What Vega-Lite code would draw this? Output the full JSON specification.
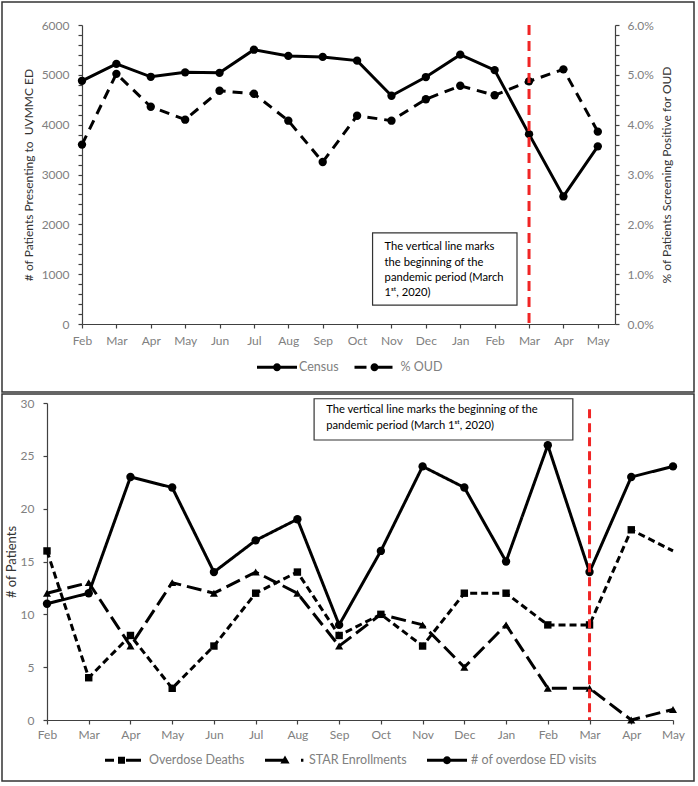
{
  "$schema": "https://vega.github.io/schema/vega-lite/v6.json",
  "padding": {"left": 1, "top": 1, "right": 0, "bottom": 0},
  "spacing": 0,
  "resolve": {"scale": {"shape": "independent"}, "legend": {"shape": "independent"}},
  "config": {
    "font": "Lato",
    "view": {"stroke": "#333333", "strokeWidth": 1.5},
    "axis": {
      "grid": false,
      "domainColor": "#404040",
      "tickColor": "#404040",
      "domainWidth": 1.2,
      "tickWidth": 1.2,
      "tickSize": 4,
      "labelColor": "#808080",
      "labelFont": "Lato",
      "labelFontSize": 12,
      "titleColor": "#333333",
      "titleFont": "Lato",
      "titleFontSize": 13,
      "titleFontWeight": "normal",
      "labelOverlap": false,
      "labelFlush": false
    },
    "legend": {"labelFont": "Lato", "labelFontSize": 12.5, "labelColor": "#808080"}
  },
  "vconcat": [
    {
      "width": 692,
      "height": 390,
      "data": {"values": [
        {"t": 0, "census": 4880, "oud": 0.0360},
        {"t": 1, "census": 5220, "oud": 0.0502},
        {"t": 2, "census": 4960, "oud": 0.0436},
        {"t": 3, "census": 5050, "oud": 0.0410},
        {"t": 4, "census": 5040, "oud": 0.0468},
        {"t": 5, "census": 5505, "oud": 0.0462},
        {"t": 6, "census": 5380, "oud": 0.0408},
        {"t": 7, "census": 5360, "oud": 0.0325},
        {"t": 8, "census": 5285, "oud": 0.0418},
        {"t": 9, "census": 4580, "oud": 0.0408},
        {"t": 10, "census": 4955, "oud": 0.0451},
        {"t": 11, "census": 5405, "oud": 0.0478},
        {"t": 12, "census": 5095, "oud": 0.0459},
        {"t": 13, "census": 3810, "oud": 0.0487},
        {"t": 14, "census": 2560, "oud": 0.0511},
        {"t": 15, "census": 3565, "oud": 0.0386}
      ]},
      "encoding": {
        "x": {
          "field": "t", "type": "quantitative",
          "scale": {"domain": [0, 15.5], "range": [80, 613], "nice": false, "zero": false},
          "axis": {
            "title": null,
            "offset": -68,
            "values": [0,1,2,3,4,5,6,7,8,9,10,11,12,13,14,15],
            "labelExpr": "['Feb','Mar','Apr','May','Jun','Jul','Aug','Sep','Oct','Nov','Dec','Jan','Feb','Mar','Apr','May'][datum.value]",
            "labelPadding": 7,
            "encode": {"ticks": {"y": {"value": -4}, "y2": {"value": 4}}}
          }
        }
      },
      "layer": [
        {
          "encoding": {
            "y": {
              "field": "census", "type": "quantitative",
              "scale": {"domain": [0, 6000], "range": [322, 23], "nice": false},
              "axis": {
                "orient": "left",
                "offset": -80,
                "title": "# of Patients Presenting to \u00a0UVMMC ED",
                "titleFontSize": 12,
                "titlePadding": 6,
                "format": "d",
                "values": [0,200,400,600,800,1000,1200,1400,1600,1800,2000,2200,2400,2600,2800,3000,3200,3400,3600,3800,4000,4200,4400,4600,4800,5000,5200,5400,5600,5800,6000],
                "labelExpr": "datum.value % 1000 === 0 ? datum.label : ''",
                "labelPadding": 9,
                "encode": {"ticks": {
                  "x": {"value": {"expr": "datum.value % 1000 === 0 ? -4 : 0"}},
                  "x2": {"value": {"expr": "datum.value % 1000 === 0 ? 4 : 3"}}
                }}
              }
            }
          },
          "layer": [
            {
              "transform": [{"filter": "datum.t === 0"}],
              "mark": {"type": "rect", "fill": "white", "stroke": "#333333", "strokeWidth": 1.2},
              "encoding": {"x": {"datum": 8.45}, "x2": {"datum": 12.65}, "y": {"datum": 1830}, "y2": {"datum": 380}}
            },
            {
              "transform": [{"filter": "datum.t === 0"}],
              "mark": {"type": "text", "text": ["The vertical line marks", "the beginning of the", "pandemic period (March", "1ˢᵗ, 2020)"], "align": "left", "baseline": "alphabetic", "fontSize": 11.2, "lineHeight": 15.3, "font": "Lato", "color": "black"},
              "encoding": {"x": {"datum": 8.8}, "y": {"datum": 1480}}
            },
            {
              "mark": {"type": "line", "color": "black", "strokeWidth": 3}
            },
            {
              "mark": {"type": "point", "shape": "circle", "filled": true, "color": "black", "size": 70, "opacity": 1}
            },
            {
              "transform": [{"filter": "datum.t === 0"}],
              "mark": {"type": "point", "filled": true, "color": "black", "strokeWidth": 0, "size": 1600, "opacity": 0},
              "encoding": {
                "shape": {
                  "datum": "Census",
                  "scale": {"domain": ["Census", "% OUD"], "range": [
                    "M-1,-0.075H1V0.075H-1ZM-0.2,0A0.2,0.2 0 1,1 0.2,0A0.2,0.2 0 1,1 -0.2,0Z",
                    "M-1.2,-0.075H-0.6V0.075H-1.2ZM-0.2,-0.075H0.7V0.075H-0.2ZM-0.4,0A0.2,0.2 0 1,1 0,0A0.2,0.2 0 1,1 -0.4,0Z"
                  ]},
                  "legend": {
                    "title": null,
                    "orient": "none",
                    "legendX": 255,
                    "legendY": 345,
                    "direction": "horizontal",
                    "symbolSize": 1600,
                    "symbolOpacity": 1,
                    "symbolFillColor": "black",
                    "symbolStrokeWidth": 0,
                    "labelOffset": 2,
                    "columnPadding": 15.5,
                    "padding": 0
                  }
                }
              }
            }
          ]
        },
        {
          "encoding": {
            "y": {
              "field": "oud", "type": "quantitative",
              "scale": {"domain": [0, 0.06], "range": [322, 23], "nice": false},
              "axis": {
                "orient": "right",
                "offset": -79,
                "title": "% of Patients Screening Positive for OUD",
                "titleFontSize": 12,
                "titleAngle": 270,
                "titleBaseline": "top",
                "titlePadding": 8,
                "format": ".1%",
                "values": [0,0.002,0.004,0.006,0.008,0.01,0.012,0.014,0.016,0.018,0.02,0.022,0.024,0.026,0.028,0.03,0.032,0.034,0.036,0.038,0.04,0.042,0.044,0.046,0.048,0.05,0.052,0.054,0.056,0.058,0.06],
                "labelExpr": "round(datum.value * 1000) % 10 === 0 ? datum.label : ''",
                "labelPadding": 8,
                "encode": {"ticks": {
                  "x": {"value": {"expr": "round(datum.value * 1000) % 10 === 0 ? -4 : -3"}},
                  "x2": {"value": {"expr": "round(datum.value * 1000) % 10 === 0 ? 4 : 0"}}
                }}
              }
            }
          },
          "layer": [
            {
              "mark": {"type": "line", "color": "black", "strokeWidth": 3, "strokeDash": [10, 7]}
            },
            {
              "mark": {"type": "point", "shape": "circle", "filled": true, "color": "black", "size": 70, "opacity": 1}
            },
            {
              "transform": [{"filter": "datum.t === 0"}],
              "mark": {"type": "point", "filled": true, "color": "black", "strokeWidth": 0, "size": 1600, "opacity": 0},
              "encoding": {"shape": {"datum": "% OUD", "scale": {"domain": ["Census", "% OUD"], "range": [
                "M-1,-0.075H1V0.075H-1ZM-0.2,0A0.2,0.2 0 1,1 0.2,0A0.2,0.2 0 1,1 -0.2,0Z",
                "M-1.2,-0.075H-0.6V0.075H-1.2ZM-0.2,-0.075H0.7V0.075H-0.2ZM-0.4,0A0.2,0.2 0 1,1 0,0A0.2,0.2 0 1,1 -0.4,0Z"
              ]}}}
            },
            {
              "transform": [{"filter": "datum.t === 13"}],
              "mark": {"type": "rule", "color": "#f02525", "strokeWidth": 3, "strokeDash": [10, 6]},
              "encoding": {"y": {"datum": 0.06}, "y2": {"datum": 0}}
            }
          ]
        }
      ],
      "resolve": {"scale": {"y": "independent"}}
    },
    {
      "width": 692,
      "height": 387,
      "data": {"values": [
        {"t": 0, "series": "Overdose Deaths", "value": 16},
        {"t": 1, "series": "Overdose Deaths", "value": 4},
        {"t": 2, "series": "Overdose Deaths", "value": 8},
        {"t": 3, "series": "Overdose Deaths", "value": 3},
        {"t": 4, "series": "Overdose Deaths", "value": 7},
        {"t": 5, "series": "Overdose Deaths", "value": 12},
        {"t": 6, "series": "Overdose Deaths", "value": 14},
        {"t": 7, "series": "Overdose Deaths", "value": 8},
        {"t": 8, "series": "Overdose Deaths", "value": 10},
        {"t": 9, "series": "Overdose Deaths", "value": 7},
        {"t": 10, "series": "Overdose Deaths", "value": 12},
        {"t": 11, "series": "Overdose Deaths", "value": 12},
        {"t": 12, "series": "Overdose Deaths", "value": 9},
        {"t": 13, "series": "Overdose Deaths", "value": 9},
        {"t": 14, "series": "Overdose Deaths", "value": 18},
        {"t": 15, "series": "Overdose Deaths", "value": 16},
        {"t": 0, "series": "STAR Enrollments", "value": 12},
        {"t": 1, "series": "STAR Enrollments", "value": 13},
        {"t": 2, "series": "STAR Enrollments", "value": 7},
        {"t": 3, "series": "STAR Enrollments", "value": 13},
        {"t": 4, "series": "STAR Enrollments", "value": 12},
        {"t": 5, "series": "STAR Enrollments", "value": 14},
        {"t": 6, "series": "STAR Enrollments", "value": 12},
        {"t": 7, "series": "STAR Enrollments", "value": 7},
        {"t": 8, "series": "STAR Enrollments", "value": 10},
        {"t": 9, "series": "STAR Enrollments", "value": 9},
        {"t": 10, "series": "STAR Enrollments", "value": 5},
        {"t": 11, "series": "STAR Enrollments", "value": 9},
        {"t": 12, "series": "STAR Enrollments", "value": 3},
        {"t": 13, "series": "STAR Enrollments", "value": 3},
        {"t": 14, "series": "STAR Enrollments", "value": 0},
        {"t": 15, "series": "STAR Enrollments", "value": 1},
        {"t": 0, "series": "# of overdose ED visits", "value": 11},
        {"t": 1, "series": "# of overdose ED visits", "value": 12},
        {"t": 2, "series": "# of overdose ED visits", "value": 23},
        {"t": 3, "series": "# of overdose ED visits", "value": 22},
        {"t": 4, "series": "# of overdose ED visits", "value": 14},
        {"t": 5, "series": "# of overdose ED visits", "value": 17},
        {"t": 6, "series": "# of overdose ED visits", "value": 19},
        {"t": 7, "series": "# of overdose ED visits", "value": 9},
        {"t": 8, "series": "# of overdose ED visits", "value": 16},
        {"t": 9, "series": "# of overdose ED visits", "value": 24},
        {"t": 10, "series": "# of overdose ED visits", "value": 22},
        {"t": 11, "series": "# of overdose ED visits", "value": 15},
        {"t": 12, "series": "# of overdose ED visits", "value": 26},
        {"t": 13, "series": "# of overdose ED visits", "value": 14},
        {"t": 14, "series": "# of overdose ED visits", "value": 23},
        {"t": 15, "series": "# of overdose ED visits", "value": 24}
      ]},
      "encoding": {
        "x": {
          "field": "t", "type": "quantitative",
          "scale": {"domain": [0, 15], "range": [45, 671], "nice": false, "zero": false},
          "axis": {
            "title": null,
            "offset": -61,
            "values": [0,1,2,3,4,5,6,7,8,9,10,11,12,13,14,15],
            "labelExpr": "['Feb','Mar','Apr','May','Jun','Jul','Aug','Sep','Oct','Nov','Dec','Jan','Feb','Mar','Apr','May'][datum.value]",
            "labelPadding": 5,
            "encode": {"ticks": {"y": {"value": -4}, "y2": {"value": 4}}}
          }
        },
        "y": {
          "field": "value", "type": "quantitative",
          "scale": {"domain": [0, 30], "range": [326, 9], "nice": false},
          "axis": {
            "orient": "left",
            "offset": -45,
            "title": "# of Patients",
            "titlePadding": 2,
            "values": [0, 5, 10, 15, 20, 25, 30],
            "labelPadding": 9,
            "encode": {"ticks": {"x": {"value": -4}, "x2": {"value": 4}}}
          }
        }
      },
      "layer": [
        {
          "transform": [{"filter": "datum.t === 0 && datum.series === 'Overdose Deaths'"}],
          "mark": {"type": "rect", "fill": "white", "stroke": "#333333", "strokeWidth": 1.2},
          "encoding": {"x": {"datum": 6.4}, "x2": {"datum": 12.6}, "y": {"datum": 30.4}, "y2": {"datum": 26.5}}
        },
        {
          "transform": [{"filter": "datum.t === 0 && datum.series === 'Overdose Deaths'"}],
          "mark": {"type": "text", "text": ["The vertical line marks the beginning of the", "pandemic period (March 1ˢᵗ, 2020)"], "align": "left", "baseline": "alphabetic", "fontSize": 11.2, "lineHeight": 16, "font": "Lato", "color": "black"},
          "encoding": {"x": {"datum": 6.69}, "y": {"datum": 29.1}}
        },
        {
          "mark": {"type": "line", "color": "black", "strokeWidth": 3},
          "encoding": {
            "strokeDash": {
              "field": "series", "type": "nominal",
              "scale": {"domain": ["Overdose Deaths", "STAR Enrollments", "# of overdose ED visits"], "range": [[7, 4], [15, 6], [1, 0]]},
              "legend": null
            }
          }
        },
        {
          "transform": [{"filter": "datum.series === 'Overdose Deaths' && datum.t < 15"}],
          "mark": {"type": "point", "shape": "square", "filled": true, "color": "black", "size": 55, "opacity": 1}
        },
        {
          "transform": [{"filter": "datum.series === 'STAR Enrollments'"}],
          "mark": {"type": "point", "shape": "triangle-up", "filled": true, "color": "black", "size": 65, "opacity": 1}
        },
        {
          "transform": [{"filter": "datum.series === '# of overdose ED visits'"}],
          "mark": {"type": "point", "shape": "circle", "filled": true, "color": "black", "size": 70, "opacity": 1}
        },
        {
          "transform": [{"filter": "datum.t === 0"}],
          "mark": {"type": "point", "filled": true, "color": "black", "strokeWidth": 0, "size": 1600, "opacity": 0},
          "encoding": {
            "shape": {
              "field": "series", "type": "nominal",
              "scale": {"domain": ["Overdose Deaths", "STAR Enrollments", "# of overdose ED visits"], "range": [
                "M-1,-0.075H-0.55V0.075H-1ZM-0.35,-0.175H0V0.175H-0.35ZM0.05,-0.075H0.8V0.075H0.05Z",
                "M-1,-0.075H-0.1V0.075H-1ZM-0.23,0.16L0,-0.24L0.23,0.16ZM0.8,-0.075H0.92V0.075H0.8Z",
                "M-1,-0.075H1V0.075H-1ZM-0.2,0A0.2,0.2 0 1,1 0.2,0A0.2,0.2 0 1,1 -0.2,0Z"
              ]},
              "legend": {
                "title": null,
                "orient": "none",
                "legendX": 103,
                "legendY": 346,
                "direction": "horizontal",
                "symbolSize": 1600,
                "symbolOpacity": 1,
                "symbolFillColor": "black",
                "symbolStrokeWidth": 0,
                "labelOffset": 4,
                "columnPadding": 20,
                "padding": 0
              }
            }
          }
        },
        {
          "transform": [{"filter": "datum.t === 13 && datum.series === 'Overdose Deaths'"}],
          "mark": {"type": "rule", "color": "#f02525", "strokeWidth": 3, "strokeDash": [9, 5]},
          "encoding": {"y": {"datum": 29.4}, "y2": {"datum": 0}}
        }
      ]
    }
  ]
}
